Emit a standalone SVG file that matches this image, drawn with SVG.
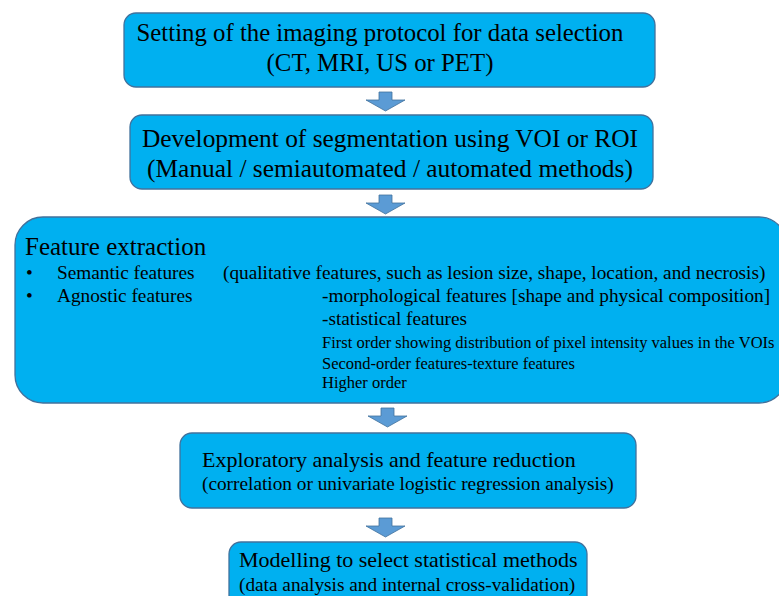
<svg xmlns="http://www.w3.org/2000/svg" width="779" height="596" viewBox="0 0 779 596">
  <style>
    .box { fill: #00B0F0; stroke: #41719C; stroke-width: 1.3; }
    .arrow { fill: #5B9BD5; stroke: #41719C; stroke-width: 0.8; }
    text { font-family: "Liberation Serif", "Times New Roman", serif; fill: #000; }
    .h1 { font-size: 24.8px; }
    .h2 { font-size: 25.4px; }
    .h3 { font-size: 25px; }
    .t22 { font-size: 22px; }
    .t19 { font-size: 19.3px; }
    .t16 { font-size: 16.5px; }
  </style>
  <rect width="779" height="596" fill="#fff"/>

  <g id="connectors">
    <path class="arrow" d="M379,92 H392 V100 H405 L385.5,111 L366,100 H379 Z"/>
    <path class="arrow" d="M379,195 H392 V203 H405 L385.5,214 L366,203 H379 Z"/>
    <path class="arrow" d="M381,408 H394 V416 H407 L387.5,427 L368,416 H381 Z"/>
    <path class="arrow" d="M379,518 H392 V526 H405 L385.5,537 L366,526 H379 Z"/>
  </g>

  <g id="node-protocol">
    <rect class="box" x="124" y="13" width="531" height="74" rx="12"/>
    <text class="h1" x="380" y="41" text-anchor="middle">Setting of the imaging protocol for data selection</text>
    <text class="h1" x="380" y="71" text-anchor="middle">(CT, MRI, US or PET)</text>
  </g>

  <g id="node-segmentation">
    <rect class="box" x="130" y="115" width="523" height="74" rx="12"/>
    <text class="h2" x="390" y="147" text-anchor="middle">Development of segmentation using VOI or ROI</text>
    <text class="h2" x="390" y="177" text-anchor="middle">(Manual / semiautomated / automated methods)</text>
  </g>

  <g id="node-extraction">
    <rect class="box" x="15" y="217" width="772" height="186" rx="28"/>
    <text class="h3" x="25" y="255">Feature extraction</text>
    <text class="t19" x="26" y="279">•</text>
    <text class="t19" x="57" y="279">Semantic features</text>
    <text class="t19" x="223" y="279">(qualitative features, such as lesion size, shape, location, and necrosis)</text>
    <text class="t19" x="26" y="302">•</text>
    <text class="t19" x="57" y="302">Agnostic features</text>
    <text class="t19" x="322" y="302">-morphological features [shape and physical composition]</text>
    <text class="t19" x="322" y="325">-statistical features</text>
    <text class="t16" x="322" y="348">First order showing distribution of pixel intensity values in the VOIs</text>
    <text class="t16" x="322" y="369">Second-order features-texture features</text>
    <text class="t16" x="322" y="388">Higher order</text>
  </g>

  <g id="node-exploratory">
    <rect class="box" x="180" y="433" width="456" height="75" rx="12"/>
    <text class="t22" x="202" y="467">Exploratory analysis and feature reduction</text>
    <text class="t19" x="202" y="490">(correlation or univariate logistic regression analysis)</text>
  </g>

  <g id="node-modelling">
    <rect class="box" x="229" y="542" width="358" height="80" rx="12"/>
    <text class="t22" x="239" y="567">Modelling to select statistical methods</text>
    <text class="t19" x="239" y="591">(data analysis and internal cross-validation)</text>
  </g>
</svg>
